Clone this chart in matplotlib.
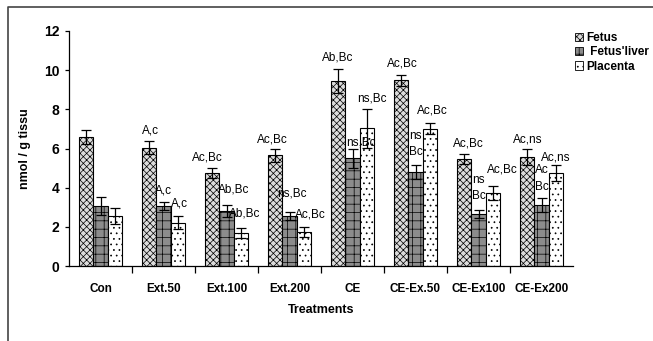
import numpy as np
import matplotlib.pyplot as plt
from matplotlib.patches import Patch
from matplotlib.lines import Line2D

plt.rcParams['font.family'] = ['Liberation Sans', 'DejaVu Sans']
plt.rcParams['hatch.linewidth'] = 0.5

treatments = ["Con", "Ext.50", "Ext.100", "Ext.200", "CE", "CE-Ex.50", "CE-Ex100", "CE-Ex200"]
series = ["Fetus", " Fetus'liver", "Placenta"]

fetus = [6.6, 6.05, 4.75, 5.65, 9.45, 9.48, 5.45, 5.58]
fetus_err = [0.35, 0.35, 0.25, 0.33, 0.6, 0.27, 0.25, 0.4]
liver = [3.05, 3.05, 2.82, 2.57, 5.5, 4.8, 2.65, 3.1]
liver_err = [0.45, 0.2, 0.3, 0.2, 0.5, 0.35, 0.2, 0.35]
placenta = [2.55, 2.22, 1.7, 1.75, 7.04, 7.0, 3.74, 4.75]
placenta_err = [0.4, 0.35, 0.25, 0.25, 1.0, 0.28, 0.35, 0.4]

fetus_lab = ["", "A,c", "Ac,Bc", "Ac,Bc", "Ab,Bc", "Ac,Bc", "Ac,Bc", "Ac,ns"]
liver_lab = ["", "A,c", "Ab,Bc", "ns,Bc", "ns,Bc", "ns\nBc", "ns\nBc", "Ac\nBc"]
placenta_lab = ["", "A,c", "Ab,Bc", "Ac,Bc", "ns,Bc", "Ac,Bc", "Ac,Bc", "Ac,ns"]

# label offsets (pixels) from the top of each error bar
fetus_off = [(0, 0), (1, 10), (-5, 11), (-3, 9), (0, 12), (1, 12), (4, 11), (1, 9)]
liver_off = [(0, 0), (0, 12), (7, 15), (2, 18), (8, 6), (0, 21), (0, 22), (0, 20)]
placenta_off = [(0, 0), (1, 12), (4, 14), (6, 12), (5, 10), (2, 13), (9, 16), (0, 8)]

fig = plt.figure(figsize=(6.53, 3.41), dpi=100)
ax = fig.add_axes([69 / 653, 75 / 341, 504 / 653, 235 / 341])

x = np.arange(len(treatments))
w = 0.23
styles = [
    dict(facecolor="#dcdcdc", hatch="xxxxx"),
    dict(facecolor="#8c8c8c", hatch="++"),
    dict(facecolor="white", hatch="..."),
]
data = [(fetus, fetus_err, fetus_lab, fetus_off),
        (liver, liver_err, liver_lab, liver_off),
        (placenta, placenta_err, placenta_lab, placenta_off)]

for k, (vals, errs, labs, offs) in enumerate(data):
    xs = x + (k - 1) * w
    ax.bar(xs, vals, w, edgecolor="black", linewidth=0.8, zorder=2, **styles[k])
    ax.errorbar(xs, vals, yerr=errs, fmt="none", ecolor="black", elinewidth=0.9,
                capsize=3.5, capthick=0.9, zorder=3)
    for xi, v, e, t, (dx, dy) in zip(xs, vals, errs, labs, offs):
        if t:
            ax.annotate(t, xy=(xi, v + e), xytext=(dx, dy), textcoords="offset pixels",
                        ha="center", va="center", fontsize=8.5, linespacing=1.5, zorder=4)

ax.set_xlim(-0.5, len(treatments) - 0.5)
ax.set_ylim(0, 12)
ax.set_yticks(range(0, 13, 2))
ax.set_xticks(x)
ax.set_xticklabels(treatments, fontsize=8.5, fontweight="bold")
ax.set_xticks(np.arange(0.5, len(treatments) - 0.5, 1), minor=True)
ax.tick_params(axis="x", which="major", length=0, pad=12)
ax.tick_params(axis="x", which="minor", length=5, width=0.9, direction="out")
ax.tick_params(axis="y", length=3, width=0.9, labelsize=10, pad=4)
for lab in ax.get_yticklabels():
    lab.set_fontweight("bold")
ax.spines["top"].set_visible(False)
ax.spines["right"].set_visible(False)
ax.spines["left"].set_linewidth(0.9)
ax.spines["bottom"].set_linewidth(0.9)

ax.set_ylabel("nmol / g tissu", fontsize=9, fontweight="bold", labelpad=9)
ax.set_xlabel("Treatments", fontsize=9, fontweight="bold", labelpad=7)

handles = [Patch(edgecolor="black", linewidth=0.6, **s) for s in styles]
fig.legend(handles, series, loc="upper left", bbox_to_anchor=(569 / 653, 1 - 26 / 341),
           frameon=False, prop=dict(size=8.5, weight="bold"), handlelength=0.7,
           handleheight=0.7, handletextpad=0.3, labelspacing=0.2, borderpad=0)

# outer frame lines (top and left)
fig.add_artist(Line2D([8 / 653, 8 / 653, 1], [0, 1 - 7 / 341, 1 - 7 / 341],
                      transform=fig.transFigure, color="#444444", linewidth=1.2))

fig.savefig("out.png", dpi=100)
